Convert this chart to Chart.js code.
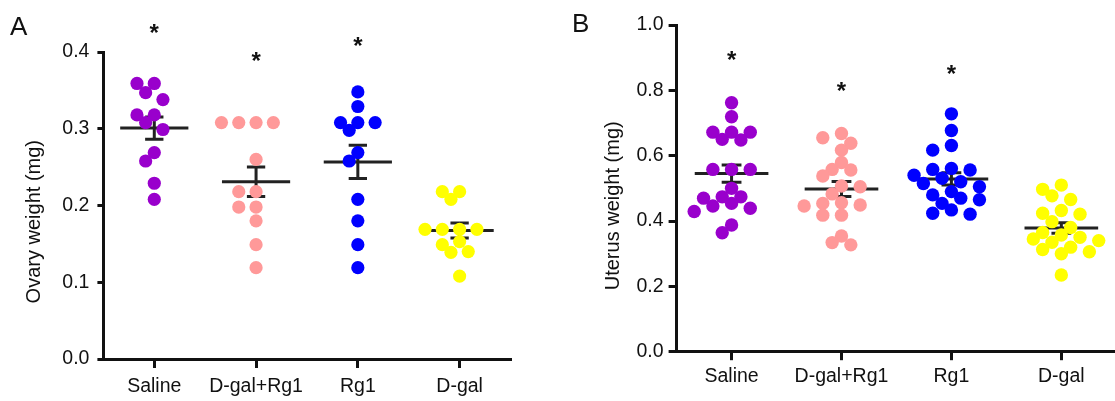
<!DOCTYPE html>
<html><head><meta charset="utf-8">
<script src="https://cdn.jsdelivr.net/npm/chart.js@4.4.1/dist/chart.umd.min.js"></script>
<style>
html,body{margin:0;padding:0;background:#fff;overflow:hidden;width:1115px;height:401px;}
#wrapA{position:absolute;left:0;top:0;width:557px;height:401px;}
#wrapB{position:absolute;left:557px;top:0;width:566px;height:401px;}
.letter{position:absolute;font-family:"Liberation Sans",Arial,sans-serif;font-size:26px;color:#111;line-height:26px;}
</style></head><body>
<div id="wrapA"><canvas id="cA" width="557" height="401"></canvas></div>
<div id="wrapB"><canvas id="cB" width="566" height="401"></canvas></div>
<div class="letter" style="left:10px;top:13px">A</div>
<div class="letter" style="left:572px;top:10px">B</div>
<script>
// ---------- data ----------
const categories = ['Saline', 'D-gal+Rg1', 'Rg1', 'D-gal'];

const ovarySaline  = [0.359, 0.359, 0.347, 0.338, 0.318, 0.318, 0.308, 0.299, 0.269, 0.258, 0.229, 0.208];
const ovaryDgalRg1 = [0.308, 0.308, 0.308, 0.308, 0.260, 0.218, 0.218, 0.198, 0.198, 0.180, 0.149, 0.119];
const ovaryRg1     = [0.348, 0.329, 0.308, 0.308, 0.308, 0.298, 0.269, 0.258, 0.208, 0.180, 0.149, 0.119];
const ovaryDgal    = [0.218, 0.218, 0.208, 0.169, 0.169, 0.169, 0.169, 0.153, 0.149, 0.140, 0.139, 0.108];

const uterusSaline  = [0.762, 0.719, 0.672, 0.672, 0.672, 0.650, 0.648, 0.558, 0.558, 0.558,
                       0.500, 0.474, 0.474, 0.470, 0.454, 0.446, 0.439, 0.429, 0.388, 0.364];
const uterusDgalRg1 = [0.668, 0.655, 0.638, 0.617, 0.579, 0.558, 0.556, 0.538, 0.507, 0.505,
                       0.483, 0.456, 0.454, 0.449, 0.446, 0.418, 0.418, 0.354, 0.334, 0.327];
const uterusRg1     = [0.728, 0.677, 0.631, 0.617, 0.561, 0.558, 0.556, 0.540, 0.531, 0.520,
                       0.515, 0.505, 0.490, 0.480, 0.470, 0.465, 0.454, 0.434, 0.424, 0.421];
const uterusDgal    = [0.510, 0.497, 0.477, 0.466, 0.432, 0.424, 0.421, 0.398, 0.380, 0.365,
                       0.357, 0.350, 0.345, 0.340, 0.335, 0.320, 0.313, 0.306, 0.300, 0.235];

const ovaryTicks  = [0.0, 0.1, 0.2, 0.3, 0.4];
const uterusTicks = [0.0, 0.2, 0.4, 0.6, 0.8, 1.0];

// significance asterisks (value level where each is drawn; null = none)
const ovaryStars  = [0.429, 0.392, 0.412, null];
const uterusStars = [0.903, 0.806, 0.859, null];

const ovaryTitle  = 'Ovary weight (mg)';
const uterusTitle = 'Uterus weight (mg)';

// ---------- styles ----------
const groupColors = ['#9900CC', '#FF9999', '#0000FF', '#FFFF00'];
const FONT = '"Liberation Sans", Arial, Helvetica, sans-serif';
const INK = '#111111';

const layoutA = { top: 52, right: 46.5, yW: 103.4, xH: 42, yTick: 6, yPad: 8, xTick: 9, xPad: 7.3,
                  titleX: 34, titleY: 221.7, r: 6.6 };
const layoutB = { top: 25, right: 2.8, yW: 119.6, xH: 49.3, yTick: 8, yPad: 5, xTick: 8.5, xPad: 4.8,
                  titleX: 56, titleY: 205.8, r: 6.7 };

function meanOf(a) { return a.reduce((s, v) => s + v, 0) / a.length; }
function semOf(a) {
  const m = meanOf(a);
  const v = a.reduce((s, x) => s + (x - m) * (x - m), 0) / (a.length - 1);
  return Math.sqrt(v / a.length);
}

// beeswarm: spread points of equal category horizontally (in pixels) so they don't stack
const swarmPlugin = {
  id: 'swarm',
  afterDatasetsUpdate(chart, args, opts) {
    const xs = chart.scales.x;
    const unit = xs.getPixelForValue(1) - xs.getPixelForValue(0);
    const step = unit * opts.step;
    chart.data.datasets.forEach((ds, di) => {
      const meta = chart.getDatasetMeta(di);
      const placed = [];
      meta.data.forEach(el => {
        const base = el.x;
        for (let k = 0; k < 12; k++) {
          const off = k === 0 ? 0 : (k % 2 ? -Math.ceil(k / 2) : Math.ceil(k / 2));
          const cx = base + off * step;
          if (placed.every(p => Math.hypot(p.x - cx, p.y - el.y) >= opts.minDist)) {
            el.x = cx; placed.push({ x: cx, y: el.y }); break;
          }
        }
      });
    });
  }
};

// mean +/- SEM
const meanPlugin = {
  id: 'meanSem',
  beforeDatasetsDraw(chart, args, opts) {
    const { ctx } = chart; const xs = chart.scales.x, ys = chart.scales.y;
    ctx.save();
    ctx.strokeStyle = '#222'; ctx.lineWidth = 3; ctx.lineCap = 'butt';
    opts.groups.forEach((vals, gi) => {
      const m = meanOf(vals), s = semOf(vals);
      const ym = ys.getPixelForValue(m), yt = ys.getPixelForValue(m + s), yb = ys.getPixelForValue(m - s);
      ctx.beginPath();
      ctx.moveTo(xs.getPixelForValue(gi - 0.335), ym); ctx.lineTo(xs.getPixelForValue(gi + 0.335), ym);
      const xc = xs.getPixelForValue(gi);
      ctx.moveTo(xc, yt); ctx.lineTo(xc, yb);
      ctx.moveTo(xs.getPixelForValue(gi - 0.09), yt); ctx.lineTo(xs.getPixelForValue(gi + 0.09), yt);
      ctx.moveTo(xs.getPixelForValue(gi - 0.09), yb); ctx.lineTo(xs.getPixelForValue(gi + 0.09), yb);
      ctx.stroke();
    });
    ctx.restore();
  }
};

// asterisks + rotated y title
const annotPlugin = {
  id: 'annot',
  afterDraw(chart, args, opts) {
    const { ctx } = chart; const xs = chart.scales.x, ys = chart.scales.y;
    ctx.save();
    ctx.fillStyle = INK;
    const fs = 24;
    ctx.font = 'bold ' + fs + 'px ' + FONT;
    ctx.textAlign = 'center'; ctx.textBaseline = 'alphabetic';
    opts.stars.forEach((v, gi) => {
      if (v === null) return;
      ctx.fillText('*', xs.getPixelForValue(gi), ys.getPixelForValue(v) + 0.46 * fs);
    });
    ctx.translate(opts.titleX, opts.titleY);
    ctx.rotate(-Math.PI / 2);
    ctx.font = '20px ' + FONT;
    ctx.textBaseline = 'middle';
    ctx.fillText(opts.title, 0, 0);
    ctx.restore();
  }
};

function makeChart(id, groups, ticks, stars, title, L) {
  const datasets = groups.map((vals, gi) => ({
    data: vals.map(v => ({ x: gi, y: v })),
    backgroundColor: groupColors[gi],
    borderWidth: 0,
    pointRadius: L.r,
    pointHoverRadius: L.r
  }));
  return new Chart(document.getElementById(id), {
    type: 'scatter',
    data: { datasets },
    options: {
      responsive: false, animation: false, events: [],
      layout: { padding: { left: 0, top: L.top, right: L.right, bottom: 0 } },
      plugins: {
        legend: { display: false }, tooltip: { enabled: false },
        swarm: { step: 0.085, minDist: 11.2 },
        meanSem: { groups },
        annot: { stars, title, titleX: L.titleX, titleY: L.titleY }
      },
      scales: {
        x: {
          type: 'linear', min: -0.5, max: 3.5,
          afterBuildTicks: s => { s.ticks = categories.map((c, i) => ({ value: i })); },
          afterFit: s => { s.height = L.xH; },
          ticks: { callback: v => categories[v], color: INK, font: { family: FONT, size: 19.5 },
                   padding: L.xPad, autoSkip: false, maxRotation: 0, minRotation: 0 },
          grid: { drawOnChartArea: false, drawTicks: true, tickLength: L.xTick, lineWidth: 3, color: INK },
          border: { display: true, width: 3, color: INK }
        },
        y: {
          min: ticks[0], max: ticks[ticks.length - 1],
          afterBuildTicks: s => { s.ticks = ticks.map(v => ({ value: v })); },
          afterFit: s => { s.width = L.yW; },
          ticks: { callback: v => v.toFixed(1), color: INK, font: { family: FONT, size: 19.5 }, padding: L.yPad },
          grid: { drawOnChartArea: false, drawTicks: true, tickLength: L.yTick, lineWidth: 3, color: INK },
          border: { display: true, width: 3, color: INK }
        }
      }
    },
    plugins: [swarmPlugin, meanPlugin, annotPlugin]
  });
}

makeChart('cA', [ovarySaline, ovaryDgalRg1, ovaryRg1, ovaryDgal], ovaryTicks, ovaryStars, ovaryTitle, layoutA);
makeChart('cB', [uterusSaline, uterusDgalRg1, uterusRg1, uterusDgal], uterusTicks, uterusStars, uterusTitle, layoutB);
</script>
</body></html>
